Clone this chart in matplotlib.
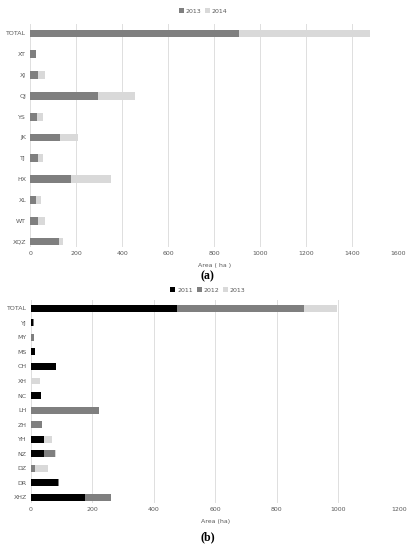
import numpy as np
import matplotlib
matplotlib.use("Agg")
import matplotlib.pyplot as plt

# panel (a)
cats_a = ["TOTAL", "XT", "XJ", "QJ", "YS", "JK", "TJ", "HX", "XL", "WT", "XQZ"]
a2013 = [906, 25, 33, 294, 28, 129, 35, 176, 23, 33, 125]
a2014 = [569, 0, 31, 160, 27, 78, 20, 175, 24, 32, 16]

# panel (b)
cats_b = ["TOTAL", "YJ", "MY", "MS", "CH", "XH", "NC", "LH", "ZH", "YH", "NZ", "DZ", "DR", "XHZ"]
b2011 = [477, 8, 0, 13, 81, 0, 34, 0, 0, 41, 41, 0, 88, 176]
b2012 = [411, 3, 10, 0, 0, 0, 0, 220, 35, 0, 38, 12, 4, 84]
b2013 = [107, 0, 0, 0, 0, 29, 0, 0, 0, 26, 4, 42, 0, 0]

txt = "#595959"
grid = "#dedede"
plt.rcParams['font.family'] = ['DejaVu Sans']

fig = plt.figure(figsize=(4.15, 5.5), dpi=100)

def style(ax, xmax, step):
    ax.set_xlim(0, xmax)
    ax.set_xticks(np.arange(0, xmax + 1, step))
    for s in ax.spines.values():
        s.set_visible(False)
    ax.grid(axis="x", color=grid, lw=0.7)
    ax.set_axisbelow(True)
    ax.tick_params(length=0, labelsize=4.5, labelcolor=txt, pad=3)

# (a)
ax1 = fig.add_axes([0.073, 0.5515, 0.8867, 0.405])
y = np.arange(len(cats_a))
ax1.barh(y, a2013, height=0.38, color="#7f7f7f", label="2013")
ax1.barh(y, a2014, left=a2013, height=0.38, color="#d9d9d9", label="2014")
ax1.set_yticks(y)
ax1.set_yticklabels(cats_a)
ax1.set_ylim(10.25, -0.46)
style(ax1, 1600, 200)
ax1.set_xlabel("Area ( ha )", fontsize=4.5, color=txt, labelpad=5)
ax1.legend(loc="upper center", bbox_to_anchor=(0.47, 1.095), ncol=2, frameon=False,
           fontsize=4.5, labelcolor=txt, handlelength=0.8, handleheight=0.8,
           columnspacing=0.6, handletextpad=0.3)
fig.text(0.5, 0.497, "(a)", ha="center", va="center", fontsize=8.5,
         family="Liberation Serif", fontweight="bold")

# (b)
ax2 = fig.add_axes([0.0747, 0.0855, 0.888, 0.369])
y = np.arange(len(cats_b))
left2 = np.array(b2011)
ax2.barh(y, b2011, height=0.48, color="black", label="2011")
ax2.barh(y, b2012, left=left2, height=0.48, color="#7f7f7f", label="2012")
ax2.barh(y, b2013, left=left2 + np.array(b2012), height=0.48, color="#d9d9d9", label="2013")
ax2.set_yticks(y)
ax2.set_yticklabels(cats_b)
ax2.set_ylim(13.39, -0.57)
style(ax2, 1200, 200)
ax2.set_xlabel("Area (ha)", fontsize=4.5, color=txt, labelpad=5)
ax2.legend(loc="upper center", bbox_to_anchor=(0.48, 1.09), ncol=3, frameon=False,
           fontsize=4.5, labelcolor=txt, handlelength=0.8, handleheight=0.8,
           columnspacing=0.6, handletextpad=0.3)
fig.text(0.5, 0.024, "(b)", ha="center", va="center", fontsize=8.5,
         family="Liberation Serif", fontweight="bold")

fig.savefig("out.png", dpi=100)
